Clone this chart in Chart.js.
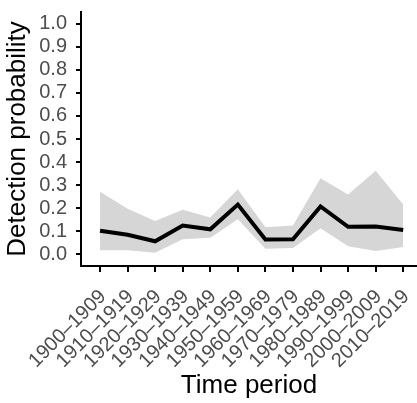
<!DOCTYPE html>
<html>
<head>
<meta charset="utf-8">
<script src="https://cdn.jsdelivr.net/npm/chart.js@4/dist/chart.umd.min.js"></script>
<style>
  html, body { margin: 0; padding: 0; background: #fff; }
  #wrap { width: 417px; height: 403px; }
</style>
</head>
<body>
<div id="wrap"><canvas id="chart"></canvas></div>
<script>
const periods = ['1900–1909', '1910–1919', '1920–1929', '1930–1939', '1940–1949', '1950–1959',
  '1960–1969', '1970–1979', '1980–1989', '1990–1999', '2000–2009', '2010–2019'];
const estimate = [0.103, 0.085, 0.057, 0.125, 0.109, 0.216, 0.065, 0.066, 0.208, 0.120, 0.121, 0.106];
const upper = [0.272, 0.198, 0.145, 0.194, 0.160, 0.282, 0.118, 0.125, 0.330, 0.260, 0.363, 0.216];
const lower = [0.018, 0.018, 0.007, 0.066, 0.072, 0.153, 0.025, 0.028, 0.113, 0.035, 0.015, 0.032];
const yTicks = [0, 0.1, 0.2, 0.3, 0.4, 0.5, 0.6, 0.7, 0.8, 0.9, 1.0];

const toPoints = arr => arr.map((v, i) => ({ x: i, y: v }));
const font = "'Liberation Sans', Arial, sans-serif";

new Chart(document.getElementById('chart'), {
  type: 'line',
  data: {
    datasets: [
      {
        label: 'Detection probability',
        data: toPoints(estimate),
        borderColor: '#000',
        borderWidth: 4,
        pointRadius: 0,
        tension: 0,
        fill: false
      },
      {
        label: 'upper',
        data: toPoints(upper),
        borderWidth: 0,
        borderColor: 'rgba(0,0,0,0)',
        backgroundColor: '#d6d6d6',
        pointRadius: 0,
        fill: '+1'
      },
      {
        label: 'lower',
        data: toPoints(lower),
        borderWidth: 0,
        borderColor: 'rgba(0,0,0,0)',
        pointRadius: 0,
        fill: false
      }
    ]
  },
  options: {
    responsive: true,
    maintainAspectRatio: false,
    animation: false,
    layout: { padding: { top: 12 } },
    plugins: {
      legend: { display: false },
      tooltip: { enabled: false }
    },
    scales: {
      x: {
        type: 'linear',
        min: -0.69,
        max: 11.5,
        afterBuildTicks: s => { s.ticks = periods.map((p, i) => ({ value: i })); },
        afterFit: s => { s.height = 137; s.paddingLeft = 0; s.paddingRight = 0; },
        border: { color: '#000', width: 2 },
        grid: { drawOnChartArea: false, color: '#000', lineWidth: 2, tickLength: 6 },
        ticks: {
          autoSkip: false,
          minRotation: 45,
          maxRotation: 45,
          padding: 13,
          labelOffset: 3,
          color: '#4d4d4d',
          font: { family: font, size: 20 },
          callback: v => periods[v]
        },
        title: {
          display: true,
          text: 'Time period',
          color: '#000',
          font: { family: font, size: 26 },
          padding: { top: 0, bottom: 2 }
        }
      },
      y: {
        type: 'linear',
        min: -0.05,
        max: 1.05,
        afterBuildTicks: s => { s.ticks = yTicks.map(v => ({ value: v })); },
        afterFit: s => { s.width = 81; s.paddingTop = 0; s.paddingBottom = 0; },
        border: { color: '#000', width: 2 },
        grid: { drawOnChartArea: false, color: '#000', lineWidth: 2, tickLength: 5 },
        ticks: {
          autoSkip: false,
          padding: 9,
          color: '#4d4d4d',
          font: { family: font, size: 20 },
          callback: v => v.toFixed(1)
        },
        title: {
          display: true,
          text: 'Detection probability',
          color: '#000',
          font: { family: font, size: 26 },
          padding: { top: 2, bottom: 0 }
        }
      }
    }
  }
});
</script>
</body>
</html>
